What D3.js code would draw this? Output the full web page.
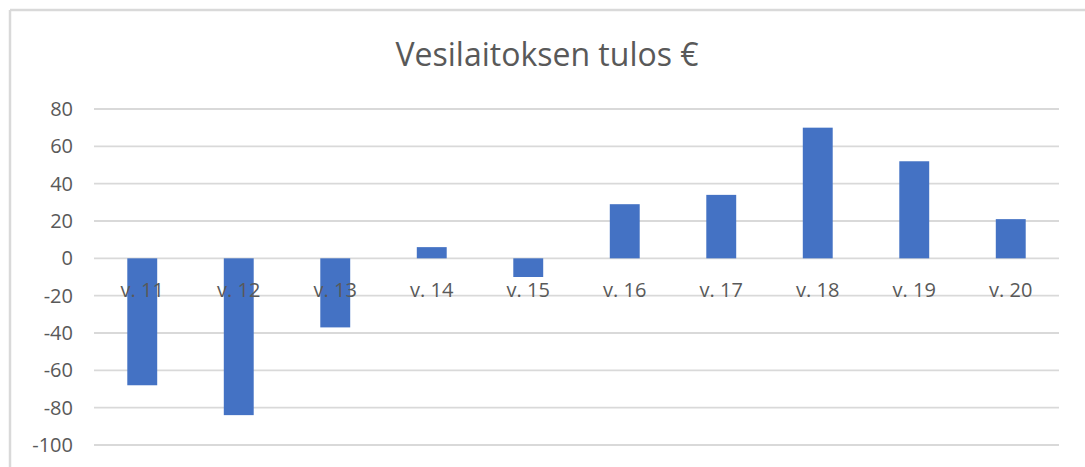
<!DOCTYPE html>
<html>
<head>
<meta charset="utf-8">
<script src="https://cdn.jsdelivr.net/npm/d3@7"></script>
<style>
  html, body { margin: 0; padding: 0; background: #fff; }
  svg { display: block; }
</style>
</head>
<body>
<div id="chart"></div>
<script>
const title = "Vesilaitoksen tulos €";
const weeks = ["v. 11", "v. 12", "v. 13", "v. 14", "v. 15", "v. 16", "v. 17", "v. 18", "v. 19", "v. 20"];
const tulos = [-68, -84, -37, 6, -10, 29, 34, 70, 52, 21];
const yTicks = [80, 60, 40, 20, 0, -20, -40, -60, -80, -100];

let width = 1085;
let height = 467;
let font = "'Open Sans', 'Noto Sans', sans-serif";

const svg = d3.select("#chart").append("svg")
    .attr("width", width)
    .attr("height", height);

// chart frame (only top and left edges visible in the crop)
svg.append("line")
    .attr("x1", 10).attr("x2", width).attr("y1", 10).attr("y2", 10)
    .attr("stroke", "#d9d9d9").attr("stroke-width", 2.5);
svg.append("line")
    .attr("x1", 10).attr("x2", 10).attr("y1", 10).attr("y2", height)
    .attr("stroke", "#d9d9d9").attr("stroke-width", 2.5);

let x = d3.scaleBand()
    .domain(weeks)
    .range([94, 1059])
    .paddingInner(0.69)
    .paddingOuter(0.345);

let y = d3.scaleLinear()
    .domain([-100, 80])
    .range([445, 109]);

// gridlines
svg.append("g")
    .selectAll("line")
    .data(yTicks)
    .join("line")
    .attr("x1", 94)
    .attr("x2", 1059)
    .attr("y1", d => y(d))
    .attr("y2", d => y(d))
    .attr("stroke", "#d9d9d9")
    .attr("stroke-width", 1.8);

// y axis labels (plain hyphen like the original)
let yAxis = d3.axisLeft(y).tickValues(yTicks).tickFormat(d => String(d)).tickSize(0).tickPadding(0);
svg.append("g")
    .attr("transform", "translate(73,0)")
    .call(yAxis)
    .call(g => g.select(".domain").remove())
    .selectAll("text")
    .attr("fill", "#595959")
    .attr("font-family", font)
    .attr("font-size", 20);

// bars
svg.append("g")
    .selectAll("rect")
    .data(tulos)
    .join("rect")
    .attr("x", (d, i) => x(weeks[i]))
    .attr("width", x.bandwidth())
    .attr("y", d => y(Math.max(0, d)))
    .attr("height", d => Math.abs(y(d) - y(0)))
    .attr("fill", "#4472c4");

// category labels sit next to zero line, over the bars
let xAxis = d3.axisBottom(x).tickSize(0).tickPadding(0);
svg.append("g")
    .attr("transform", "translate(0," + (y(0) + 38.5) + ")")
    .call(xAxis)
    .call(g => g.select(".domain").remove())
    .selectAll("text")
    .attr("dy", 0)
    .attr("fill", "#595959")
    .attr("font-family", font)
    .attr("font-size", 20);

svg.append("text")
    .attr("x", 547)
    .attr("y", 66)
    .attr("text-anchor", "middle")
    .attr("fill", "#595959")
    .attr("font-family", font)
    .attr("font-size", 32)
    .text(title);
</script>
</body>
</html>
